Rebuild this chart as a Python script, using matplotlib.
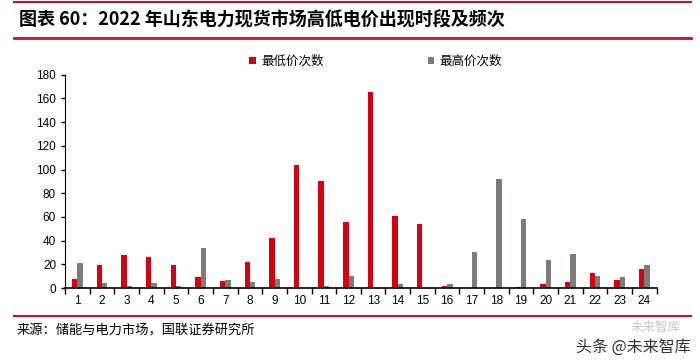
import numpy as np
import matplotlib.pyplot as plt

plt.rcParams['font.family'] = ['Noto Sans CJK SC', 'DejaVu Sans']

hours = [str(i) for i in range(1, 25)]
low_counts = [8, 19, 28, 26, 19, 9, 6, 22, 42, 104, 90, 56, 165, 61, 54, 2, 0, 0, 1, 3, 5, 13, 7, 16]
high_counts = [21, 4, 2, 4, 2, 34, 7, 5, 8, 0, 2, 10, 0, 3, 0, 3, 30, 92, 58, 24, 29, 10, 9, 19]

RED = '#D7000F'
GRAY = '#7F7B7B'
LINE = '#C8102E'

fig = plt.figure(figsize=(7, 3.63), dpi=100)
ax = fig.add_axes([0.093, 0.2066, 0.845, 0.5876])

x = np.arange(len(hours))
w = 0.22
ax.bar(x - w / 2, low_counts, width=w, color=RED, label='最低价次数')
ax.bar(x + w / 2, high_counts, width=w, color=GRAY, label='最高价次数')

ax.set_xlim(-0.5, len(hours) - 0.5)
ax.set_ylim(0, 180)
ax.set_yticks(range(0, 181, 20))
ax.set_xticks(x)
ax.set_xticklabels(hours)
ax.set_xticks(np.arange(-0.5, len(hours), 1), minor=True)
ax.tick_params(axis='x', which='major', length=0, labelsize=8.5, pad=5)
ax.tick_params(axis='x', which='minor', length=4, width=1, direction='out')
ax.tick_params(axis='y', length=3, width=1, labelsize=8.5, direction='out')
for lbl in ax.get_xticklabels() + ax.get_yticklabels():
    lbl.set_fontfamily('Liberation Sans')
for s in ['top', 'right']:
    ax.spines[s].set_visible(False)
ax.spines['left'].set_color('black')
ax.spines['bottom'].set_color('black')
ax.spines['bottom'].set_linewidth(1.2)

ax.legend(loc='upper center', bbox_to_anchor=(0.525, 1.145), ncol=2, frameon=False,
          fontsize=9, handlelength=0.55, handleheight=0.55, columnspacing=8.3, handletextpad=0.4)

# header and footer lines
fig.add_artist(plt.Line2D([0.02, 0.987], [0.995, 0.995], color=LINE, lw=1.5))
fig.add_artist(plt.Line2D([0.02, 0.987], [0.895, 0.895], color=LINE, lw=2))
fig.add_artist(plt.Line2D([0.02, 0.987], [0.13, 0.13], color=LINE, lw=1.5))

fig.text(0.027, 0.945, '图表 60：2022 年山东电力现货市场高低电价出现时段及频次',
         fontsize=13, fontweight='bold', fontstyle='italic', va='center', ha='left')
fig.text(0.024, 0.088, '来源：储能与电力市场，国联证券研究所', fontsize=9.5, va='center', ha='left')
fig.text(0.972, 0.098, '未来智库', fontsize=9, color='#C8C8C8', va='center', ha='right')
fig.text(0.987, 0.043, '头条 @未来智库', fontsize=11.5, color='#333333', va='center', ha='right')

fig.savefig('out.png', dpi=100)
